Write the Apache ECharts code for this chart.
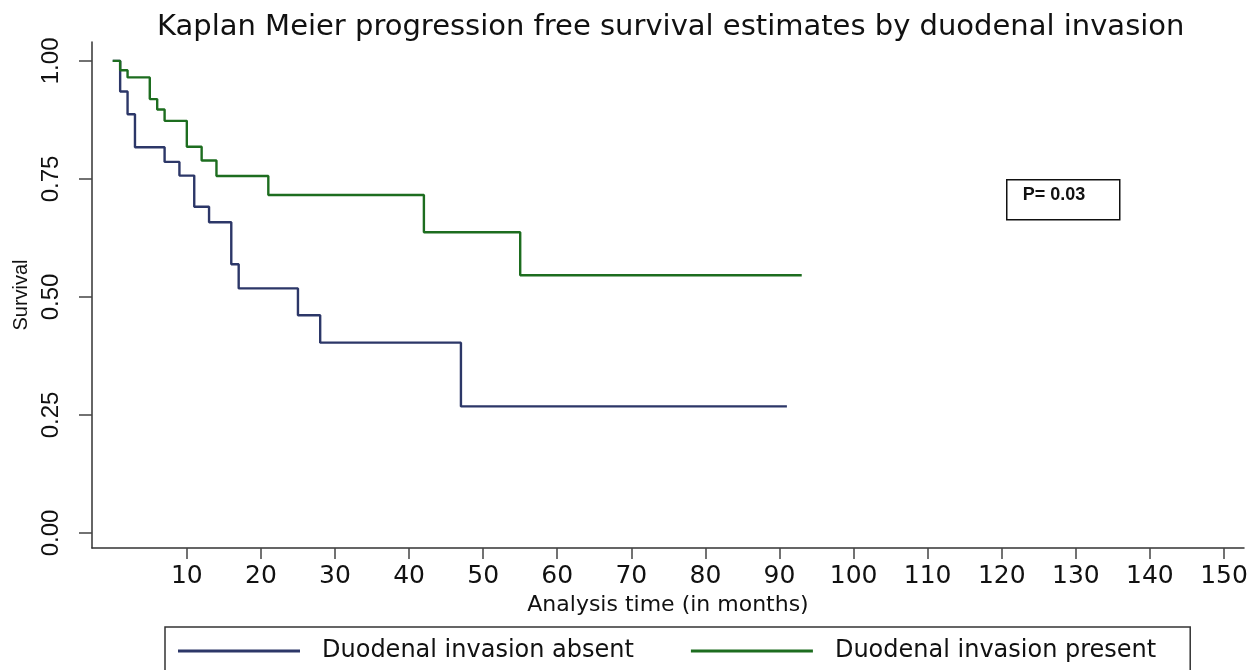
<!DOCTYPE html>
<html>
<head>
<meta charset="utf-8">
<title>Kaplan Meier PFS by duodenal invasion</title>
<script src="https://cdn.jsdelivr.net/npm/echarts@6.0.0/dist/echarts.min.js"></script>
<style>
  html, body { margin: 0; padding: 0; background: #fff; }
  #chart { width: 1255px; height: 670px; }
</style>
</head>
<body>
<div id="chart"></div>
<script>
// groups shown in the legend
const groups = ['Duodenal invasion absent', 'Duodenal invasion present'];

// KM steps (time in months, survival after the drop)
const absentTime = [0, 1, 2, 3, 7, 9, 11, 13, 16, 17, 25, 28, 47, 91];
const absentSurv = [1, 0.935, 0.887, 0.817, 0.786, 0.757, 0.691, 0.658, 0.569, 0.518, 0.461, 0.403, 0.268, 0.268];

const presentTime = [0, 1, 2, 5, 6, 7, 10, 12, 14, 21, 42, 55, 93];
const presentSurv = [1, 0.98, 0.965, 0.919, 0.897, 0.873, 0.818, 0.789, 0.756, 0.716, 0.637, 0.546, 0.546];

// tick labels
const xTicks = [10, 20, 30, 40, 50, 60, 70, 80, 90, 100, 110, 120, 130, 140, 150];
const yTicks = [0, 0.25, 0.5, 0.75, 1];

const pValueText = 'P= 0.03';

let toPairs = (times, surv) => times.map((t, i) => [t, surv[i]]);

let chart = echarts.init(document.getElementById('chart'));

let axisFont = '"DejaVu Sans", sans-serif';
let narrowFont = '"Liberation Sans", Arial, sans-serif';

let options = {
  backgroundColor: '#fff',
  animation: false,
  title: {
    text: 'Kaplan Meier progression free survival estimates by duodenal invasion',
    left: 152,
    top: 8,
    textStyle: {
      fontFamily: axisFont,
      fontSize: 29,
      fontWeight: 'normal',
      color: '#111'
    }
  },
  legend: {
    data: groups,
    left: 165,
    top: 627,
    orient: 'horizontal',
    icon: 'rect',
    itemWidth: 122,
    itemHeight: 3,
    itemGap: 57,
    padding: [12, 34, 40, 13],
    borderColor: '#333',
    borderWidth: 1.5,
    textStyle: {
      fontFamily: axisFont,
      fontSize: 24,
      color: '#111',
      padding: [0, 0, 0, 17]
    }
  },
  grid: {
    left: 92,
    right: 11,
    top: 42,
    bottom: 122
  },
  xAxis: {
    type: 'value',
    min: -2.8,
    max: 152.7,
    name: 'Analysis time (in months)',
    nameLocation: 'middle',
    nameGap: 40,
    nameTextStyle: {
      fontFamily: axisFont,
      fontSize: 22,
      color: '#111'
    },
    axisLine: { onZero: false, lineStyle: { color: '#333', width: 1.5 } },
    axisTick: {
      customValues: xTicks,
      length: 11,
      lineStyle: { color: '#444', width: 1.5 }
    },
    axisLabel: {
      customValues: xTicks,
      margin: 16,
      fontFamily: axisFont,
      fontSize: 25,
      color: '#111'
    },
    splitLine: { show: false }
  },
  yAxis: {
    type: 'value',
    min: -0.032,
    max: 1.04,
    name: 'Survival',
    nameLocation: 'middle',
    nameRotate: 90,
    nameGap: 58,
    nameTextStyle: {
      fontFamily: narrowFont,
      fontSize: 20,
      color: '#111'
    },
    axisLine: { show: true, onZero: false, lineStyle: { color: '#333', width: 1.5 } },
    axisTick: {
      show: true,
      customValues: yTicks,
      length: 13,
      lineStyle: { color: '#444', width: 1.5 }
    },
    axisLabel: {
      customValues: yTicks,
      rotate: 90,
      margin: 29,
      fontFamily: narrowFont,
      fontSize: 24,
      color: '#111',
      formatter: v => v.toFixed(2)
    },
    splitLine: { show: false }
  },
  series: [
    {
      name: groups[0],
      type: 'line',
      step: 'end',
      data: toPairs(absentTime, absentSurv),
      symbol: 'none',
      color: '#2c3768',
      lineStyle: { width: 2.4, color: '#2c3768' }
    },
    {
      name: groups[1],
      type: 'line',
      step: 'end',
      data: toPairs(presentTime, presentSurv),
      symbol: 'none',
      color: '#1d6d1f',
      lineStyle: { width: 2.4, color: '#1d6d1f' }
    }
  ],
  graphic: [
    {
      type: 'group',
      left: 1006,
      top: 179,
      children: [
        {
          type: 'rect',
          shape: { x: 0, y: 0, width: 113, height: 40 },
          style: { fill: '#fff', stroke: '#111', lineWidth: 1.5 }
        },
        {
          type: 'text',
          x: 16,
          y: 15,
          style: {
            text: pValueText,
            font: 'bold 18px "Liberation Sans", Arial, sans-serif',
            fill: '#111',
            verticalAlign: 'middle'
          }
        }
      ]
    }
  ]
};

chart.setOption(options);
</script>
</body>
</html>
